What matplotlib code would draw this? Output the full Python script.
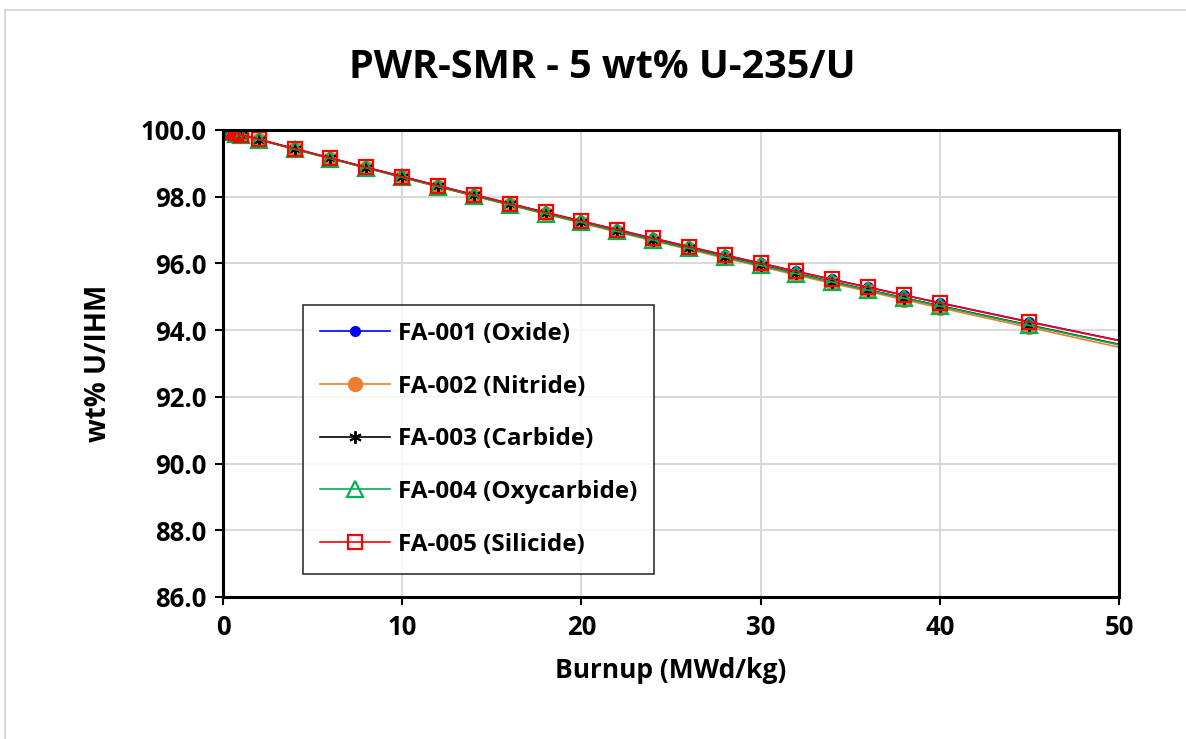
import matplotlib
matplotlib.use('Agg')
import matplotlib.pyplot as plt
from matplotlib.patches import Rectangle

plt.rcParams['font.family'] = ['Open Sans', 'DejaVu Sans']
plt.rcParams['font.weight'] = 'bold'

# burnup points (last one lies beyond the axis limit, line is clipped at 50)
burnup = [0, 0.1, 0.25, 0.5, 0.75, 1, 2, 4, 6, 8, 10, 12, 14, 16, 18, 20,
          22, 24, 26, 28, 30, 32, 34, 36, 38, 40, 45, 60]

oxide = [100.0, 99.99, 99.97, 99.93, 99.90, 99.86, 99.72, 99.44, 99.16, 98.88,
         98.61, 98.33, 98.06, 97.80, 97.53, 97.27, 97.01, 96.76, 96.50, 96.25,
         96.01, 95.76, 95.52, 95.29, 95.05, 94.82, 94.25, 92.58]
nitride = [100.0, 99.99, 99.97, 99.93, 99.89, 99.86, 99.71, 99.43, 99.14, 98.86,
           98.58, 98.30, 98.02, 97.75, 97.48, 97.21, 96.94, 96.68, 96.42, 96.16,
           95.91, 95.65, 95.40, 95.16, 94.91, 94.67, 94.08, 92.30]
carbide = [100.0, 99.99, 99.97, 99.93, 99.89, 99.86, 99.71, 99.43, 99.15, 98.87,
           98.59, 98.31, 98.04, 97.77, 97.50, 97.24, 96.97, 96.71, 96.46, 96.20,
           95.95, 95.70, 95.45, 95.21, 94.97, 94.73, 94.15, 92.42]
oxycarbide = [100.0, 99.99, 99.97, 99.93, 99.89, 99.86, 99.71, 99.42, 99.14, 98.86,
              98.58, 98.30, 98.03, 97.76, 97.49, 97.23, 96.96, 96.70, 96.45, 96.19,
              95.94, 95.69, 95.44, 95.20, 94.96, 94.72, 94.14, 92.40]
silicide = [100.0, 99.99, 99.97, 99.93, 99.90, 99.86, 99.72, 99.44, 99.16, 98.88,
            98.60, 98.33, 98.06, 97.79, 97.53, 97.27, 97.01, 96.75, 96.50, 96.25,
            96.00, 95.76, 95.52, 95.28, 95.05, 94.81, 94.24, 92.57]

fig = plt.figure(figsize=(11.86, 7.39), dpi=100)
fig.patches.append(Rectangle((0.004, -0.01), 1.0, 0.997, transform=fig.transFigure,
                             fill=False, edgecolor='#d9d9d9', lw=1.5))
ax = fig.add_axes([0.188, 0.1922, 0.7555, 0.6319])

ax.plot(burnup, oxide, color='#0000ff', lw=1.2, marker='o', ms=7,
        label='FA-001 (Oxide)')
ax.plot(burnup, nitride, color='#ed7d31', lw=1.2, marker='o', ms=10,
        label='FA-002 (Nitride)')
ax.plot(burnup, carbide, color='black', lw=1.2, marker=(6, 2, 0), ms=9, mew=1.4,
        label='FA-003 (Carbide)')
ax.plot(burnup, oxycarbide, color='#00b050', lw=1.2, marker='^', ms=11,
        mfc='none', mew=1.6, label='FA-004 (Oxycarbide)')
ax.plot(burnup, silicide, color='#ff0000', lw=1.2, marker='s', ms=10,
        mfc='none', mew=1.6, label='FA-005 (Silicide)')

ax.set_xlim(0, 50)
ax.set_ylim(86, 100)
ax.set_xticks(range(0, 51, 10))
ax.set_yticks(range(86, 101, 2))
ax.set_yticklabels([f'{v:.1f}' for v in range(86, 101, 2)])
ax.grid(True, color='#d9d9d9', lw=1.5)
ax.set_axisbelow(True)
for s in ax.spines.values():
    s.set_linewidth(2.2)
ax.tick_params(axis='both', direction='out', length=6, width=1.5,
               labelsize=18.5, pad=6)
for lab in ax.get_xticklabels() + ax.get_yticklabels():
    lab.set_fontweight('bold')

fig.text(0.508, 0.908, 'PWR-SMR - 5 wt% U-235/U', fontsize=28.5,
         fontweight='bold', ha='center', va='center')
ax.set_xlabel('Burnup (MWd/kg)', fontsize=19, fontweight='bold', labelpad=12)
ax.set_ylabel('wt% U/IHM', fontsize=20, fontweight='bold', labelpad=20)

leg = ax.legend(loc='lower left', bbox_to_anchor=(0.089, 0.05),
                fontsize=17.5, frameon=True, fancybox=False, edgecolor='black',
                handlelength=2.9, labelspacing=1.18, borderpad=0.7,
                handletextpad=0.3, borderaxespad=0)
leg.get_frame().set_linewidth(1.2)
for t in leg.get_texts():
    t.set_fontweight('bold')

plt.savefig('out.png', dpi=100)
